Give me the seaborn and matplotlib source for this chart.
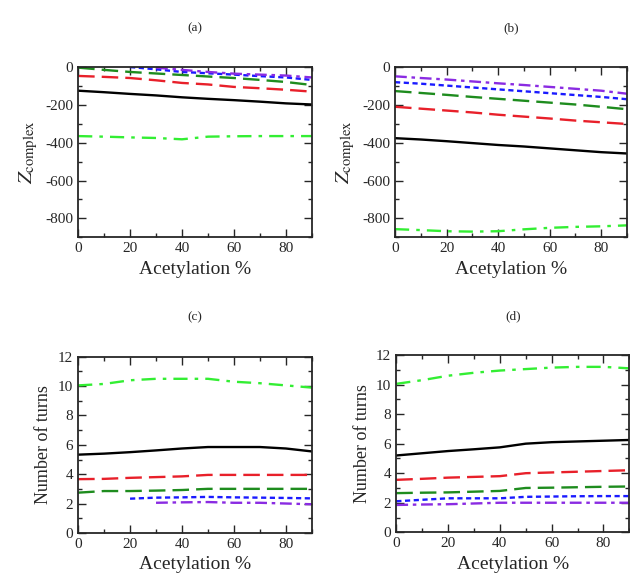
import numpy as np
import matplotlib
matplotlib.use('Agg')
import matplotlib.pyplot as plt
import seaborn as sns
from matplotlib.ticker import MultipleLocator

sns.set_style('ticks')
plt.rcParams['font.family'] = ['Liberation Serif', 'DejaVu Serif']
plt.rcParams['mathtext.fontset'] = 'stix'
plt.rcParams['axes.unicode_minus'] = False

acet = [0, 10, 20, 30, 40, 50, 60, 70, 80, 90]
acet_from20 = [20, 30, 40, 50, 60, 70, 80, 90]
acet_from30 = [30, 40, 50, 60, 70, 80, 90]

# (a) Z_complex
a_black = [-125, -133, -142, -150, -160, -168, -175, -183, -192, -198]
a_red = [-47, -52, -58, -70, -84, -92, -105, -112, -120, -130]
a_green = [-3, -15, -26, -34, -42, -50, -58, -68, -79, -95]
a_blue = [0, -12, -26, -33, -40, -48, -55, -68]
a_purple = [-3, -15, -26, -35, -40, -45, -55]
a_lime = [-365, -368, -372, -375, -382, -368, -366, -365, -365, -365]

# (b) Z_complex
b_black = [-376, -383, -392, -402, -412, -420, -430, -440, -450, -457]
b_red = [-210, -220, -230, -240, -252, -262, -272, -283, -292, -301]
b_green = [-127, -137, -147, -158, -168, -178, -188, -198, -210, -223]
b_blue = [-80, -88, -98, -108, -118, -128, -138, -148, -158, -170]
b_purple = [-49, -58, -66, -76, -86, -95, -105, -115, -125, -141]
b_lime = [-857, -862, -868, -870, -868, -858, -850, -845, -842, -837]

# (c) number of turns
c_black = [5.33, 5.4, 5.5, 5.62, 5.75, 5.85, 5.85, 5.85, 5.75, 5.55]
c_red = [3.66, 3.68, 3.75, 3.8, 3.85, 3.95, 3.95, 3.95, 3.95, 3.95]
c_green = [2.74, 2.85, 2.85, 2.88, 2.92, 3.0, 3.0, 3.0, 3.0, 3.0]
c_blue = [2.33, 2.4, 2.42, 2.45, 2.42, 2.4, 2.38, 2.35]
c_purple = [2.05, 2.08, 2.1, 2.05, 2.05, 2.0, 1.95]
c_lime = [10.05, 10.15, 10.4, 10.5, 10.5, 10.5, 10.3, 10.2, 10.05, 9.9]

# (d) number of turns
d_black = [5.2, 5.35, 5.5, 5.62, 5.75, 6.0, 6.1, 6.15, 6.2, 6.25]
d_red = [3.55, 3.62, 3.7, 3.75, 3.8, 4.0, 4.05, 4.1, 4.15, 4.2]
d_green = [2.65, 2.68, 2.7, 2.75, 2.8, 3.0, 3.02, 3.05, 3.08, 3.1]
d_blue = [2.1, 2.2, 2.3, 2.3, 2.3, 2.4, 2.42, 2.44, 2.45, 2.45]
d_purple = [1.85, 1.88, 1.9, 1.95, 2.0, 2.0, 2.0, 2.0, 2.0, 2.0]
d_lime = [10.05, 10.3, 10.6, 10.8, 10.95, 11.05, 11.15, 11.2, 11.2, 11.1]

styles = {
    'black': ('black', '-'),
    'red': ('#e8202a', (0, (7, 3))),
    'green': ('#1e8c1e', (0, (7, 3))),
    'blue': ('#1a1aff', (0, (2.2, 1.5))),
    'purple': ('#8a2be2', (0, (5, 2, 1.5, 2))),
    'lime': ('#33ee33', (0, (6, 3, 1.5, 3))),
}


def draw_panel(ax, series, title, ylabel, ylim, ymajor, yminor):
    for key, (xs, ys) in series.items():
        color, ls = styles[key]
        sns.lineplot(x=xs, y=ys, ax=ax, color=color, linestyle=ls, linewidth=1.7)
    ax.set_xlim(0, 90)
    ax.set_ylim(*ylim)
    ax.xaxis.set_major_locator(MultipleLocator(20))
    ax.xaxis.set_minor_locator(MultipleLocator(10))
    ax.yaxis.set_major_locator(MultipleLocator(ymajor))
    ax.yaxis.set_minor_locator(MultipleLocator(yminor))
    ax.tick_params(which='both', direction='in', top=True, right=True, labelsize=11)
    ax.tick_params(which='major', length=6, width=1)
    ax.tick_params(which='minor', length=3, width=1)
    for sp in ax.spines.values():
        sp.set_linewidth(1.3)
    ax.set_xlabel('Acetylation %', fontsize=14)
    ax.set_ylabel(ylabel, fontsize=15 if 'Z' in ylabel else 13)
    ax.set_title(title, fontsize=9.5, pad=26)


fig = plt.figure(figsize=(6.3, 5.83), dpi=100)
ax_a = fig.add_axes([0.124, 0.593, 0.371, 0.292])
ax_b = fig.add_axes([0.627, 0.593, 0.368, 0.292])
ax_c = fig.add_axes([0.124, 0.086, 0.371, 0.302])
ax_d = fig.add_axes([0.629, 0.087, 0.370, 0.304])

zlabel = r'$Z_{\mathrm{complex}}$'
draw_panel(ax_a, {'black': (acet, a_black), 'red': (acet, a_red), 'green': (acet, a_green),
                  'blue': (acet_from20, a_blue), 'purple': (acet_from30, a_purple),
                  'lime': (acet, a_lime)},
           '(a)', zlabel, (-900, 0), 200, 100)
draw_panel(ax_b, {'black': (acet, b_black), 'red': (acet, b_red), 'green': (acet, b_green),
                  'blue': (acet, b_blue), 'purple': (acet, b_purple), 'lime': (acet, b_lime)},
           '(b)', zlabel, (-900, 0), 200, 100)
draw_panel(ax_c, {'black': (acet, c_black), 'red': (acet, c_red), 'green': (acet, c_green),
                  'blue': (acet_from20, c_blue), 'purple': (acet_from30, c_purple),
                  'lime': (acet, c_lime)},
           '(c)', 'Number of turns', (0, 12), 2, 1)
draw_panel(ax_d, {'black': (acet, d_black), 'red': (acet, d_red), 'green': (acet, d_green),
                  'blue': (acet, d_blue), 'purple': (acet, d_purple), 'lime': (acet, d_lime)},
           '(d)', 'Number of turns', (0, 12), 2, 1)

fig.savefig('out.png', dpi=100)
